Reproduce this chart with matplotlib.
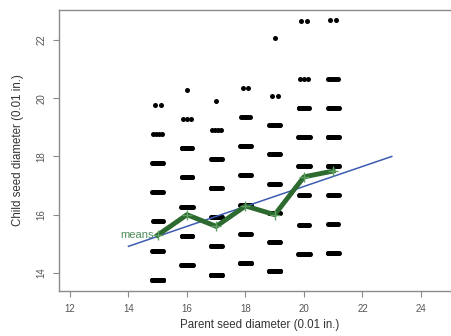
import numpy as np
from matplotlib import pyplot as plt

plt.rcParams["font.family"] = ["Liberation Sans", "DejaVu Sans"]

# Galton's sweet pea table: 100 children per parent size
parents = [15, 16, 17, 18, 19, 20, 21]
child_values = [
    [13.77, 14.77, 15.77, 16.77, 17.77, 18.77, 19.77, 21.77],
    [14.28, 15.28, 16.28, 17.28, 18.28, 19.28, 20.28, 22.28],
    [13.92, 14.92, 15.92, 16.92, 17.92, 18.92, 19.92, 21.92],
    [14.35, 15.35, 16.35, 17.35, 18.35, 19.35, 20.35, 22.35],
    [14.07, 15.07, 16.07, 17.07, 18.07, 19.07, 20.07, 22.07],
    [14.66, 15.66, 16.66, 17.66, 18.66, 19.66, 20.66, 22.66],
    [14.67, 15.67, 16.67, 17.67, 18.67, 19.67, 20.67, 22.67],
]
counts = [
    [46, 14, 9, 11, 14, 4, 2, 0],
    [34, 15, 18, 16, 13, 3, 1, 0],
    [37, 16, 13, 16, 13, 4, 1, 0],
    [34, 12, 13, 17, 16, 6, 2, 0],
    [35, 16, 12, 13, 11, 10, 2, 1],
    [23, 10, 12, 17, 20, 13, 3, 2],
    [22, 8, 10, 18, 21, 13, 6, 2],
]
x_ticks = [12, 14, 16, 18, 20, 22, 24]
y_ticks = [14, 16, 18, 20, 22]

GRAY = "#8a8a8a"

fig = plt.figure(figsize=(4.52, 3.36), dpi=100)
ax = fig.add_axes([59 / 452, 45 / 336, 393 / 452, 281 / 336])

# expand table into individual observations, spread sideways like jitter
xs, ys = [], []
for p, vals, cnts in zip(parents, child_values, counts):
    for v, n in zip(vals, cnts):
        if n == 0:
            continue
        half = 0.2 * (1 - 1 / n)
        xs.extend(p + np.linspace(-half, half, n))
        ys.extend([v] * n)
xs = np.array(xs)
ys = np.array(ys)
ax.plot(xs, ys, "o", color="black", markersize=3.6, markeredgewidth=0, zorder=2)

# least squares line of child on parent
parent_obs = np.repeat(parents, [sum(c) for c in counts])
slope, intercept = np.polyfit(parent_obs, ys, 1)
line_x = np.array([14, 23])
ax.plot(line_x, intercept + slope * line_x, color="#3d5cb0", lw=1.1, zorder=3)

# means per parent
means = [np.average(v, weights=c) for v, c in zip(child_values, counts)]
ax.plot(parents, means, color="#2c6a2f", lw=3.5, solid_joinstyle="round", zorder=4)
ax.plot(parents, means, "+", color="#5f9f62", markersize=7, markeredgewidth=1.0, zorder=5)
ax.annotate("means", (parents[0], means[0]), xytext=(-3, 0), textcoords="offset points",
            ha="right", va="center", color="#4a8c5a", fontsize=8, zorder=6)

ax.set_xlim(11.624, 25.06)
ax.set_ylim(13.38, 23.03)
ax.set_xticks(x_ticks)
ax.set_yticks(y_ticks)
ax.set_yticklabels([str(t) for t in y_ticks], rotation=90, va="center")
ax.tick_params(length=4, width=0.8, color=GRAY, labelcolor="#555555", labelsize=7, pad=5)
for side in ["top", "left", "bottom"]:
    ax.spines[side].set_color(GRAY)
    ax.spines[side].set_linewidth(1.0)
ax.spines["right"].set_visible(False)

fig.text(259.5 / 452, 1 - 325 / 336, "Parent seed diameter (0.01 in.)", ha="center", va="center",
         fontsize=8.3, color="#333333")
fig.text(18 / 452, 1 - 150.5 / 336, "Child seed diameter (0.01 in.)", ha="center", va="center",
         rotation=90, fontsize=8.3, color="#333333")

fig.savefig("out.png", dpi=100)
